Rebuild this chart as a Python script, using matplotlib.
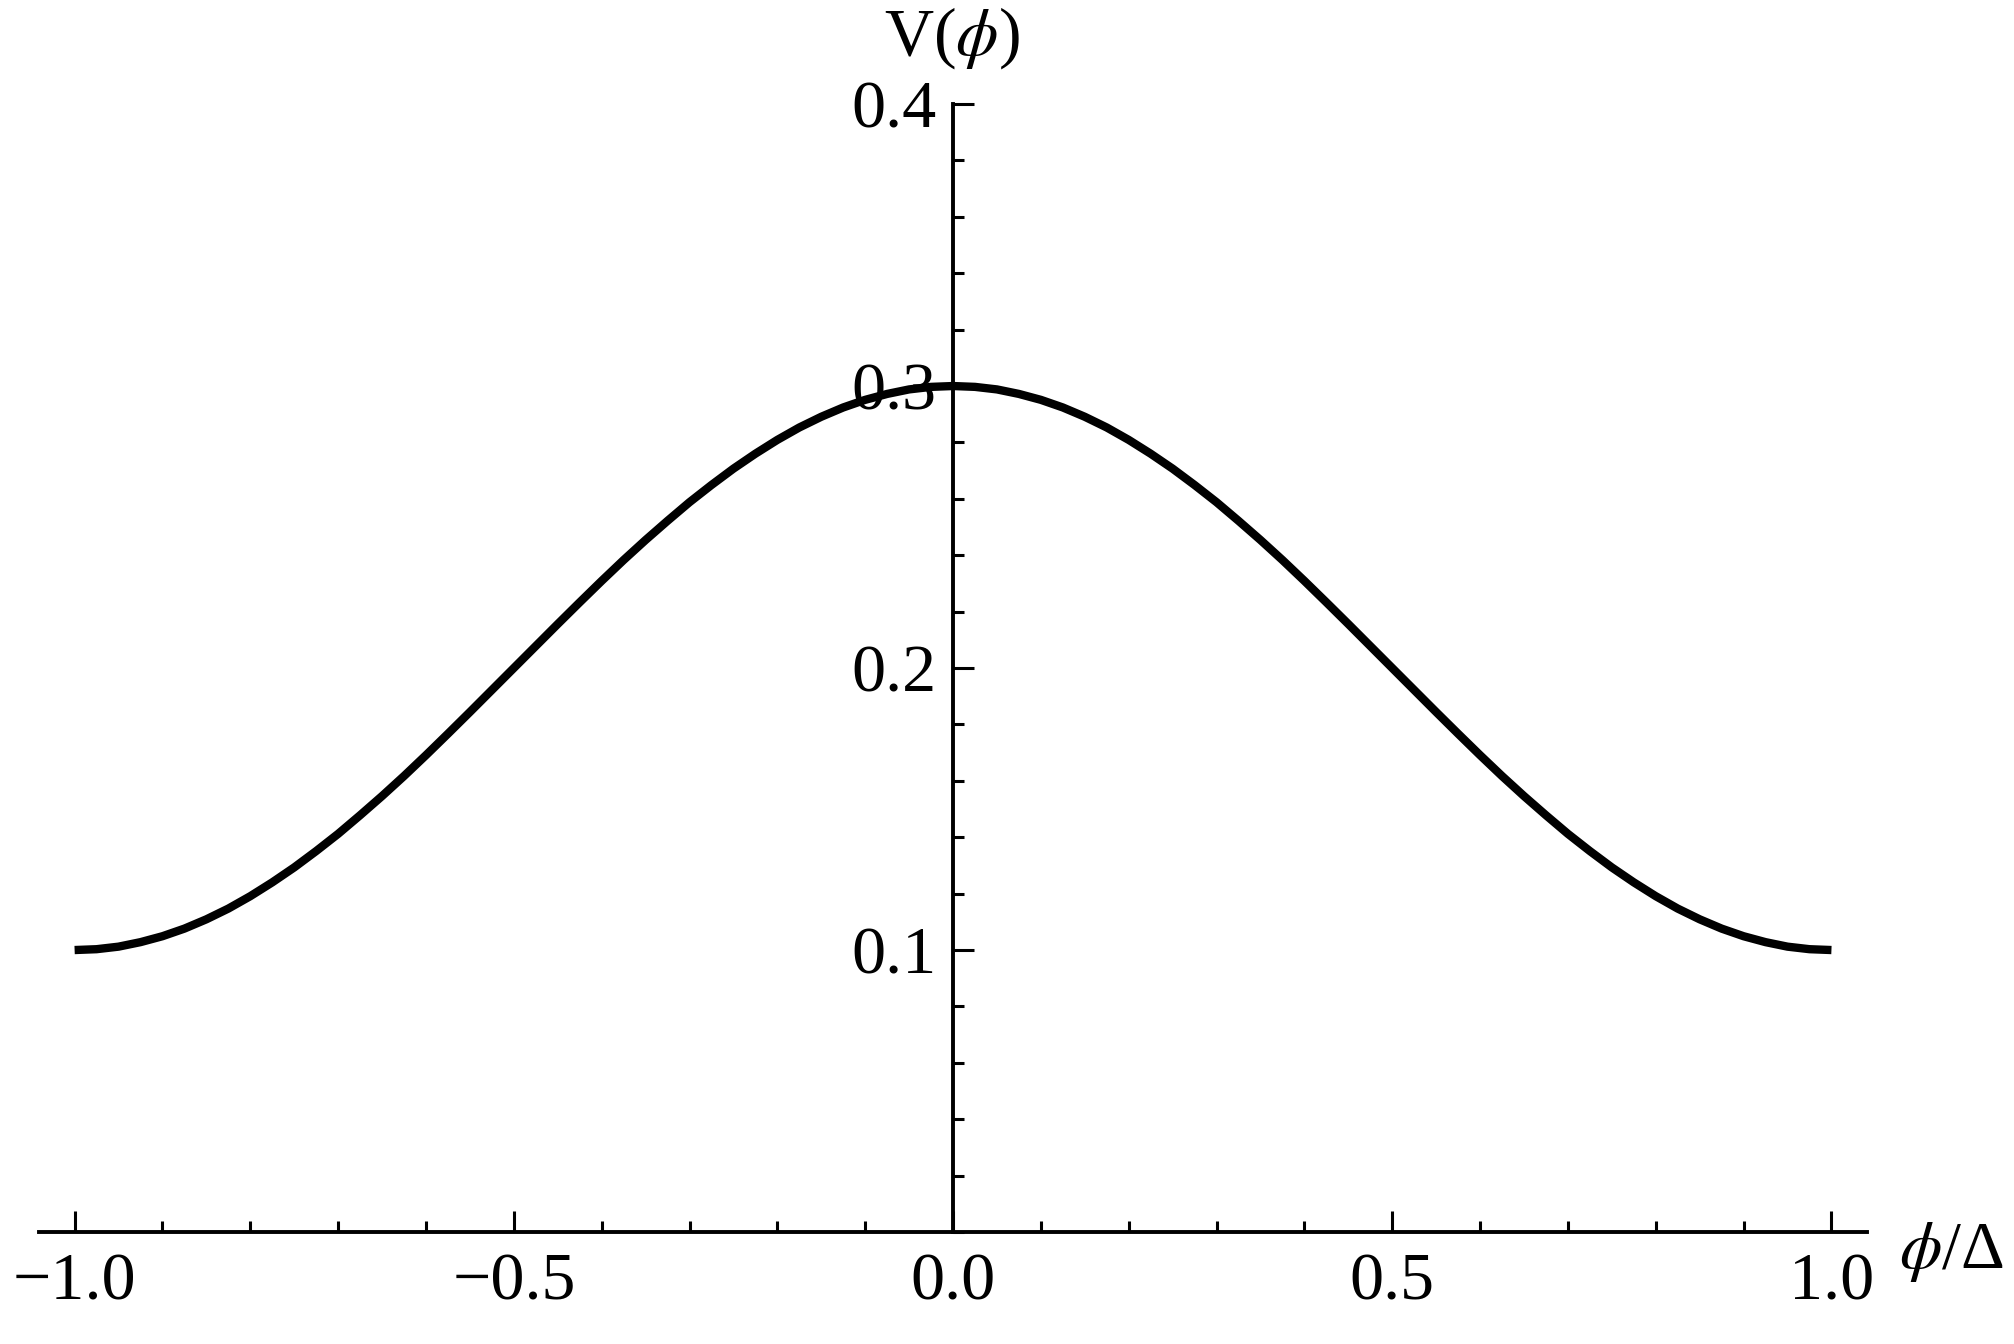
import matplotlib
matplotlib.use("Agg")
import matplotlib.pyplot as plt
from matplotlib.ticker import MultipleLocator

# valores (phi/Delta, V)
phi = [-1.000, -0.975, -0.950, -0.925, -0.900, -0.875, -0.850, -0.825, -0.800, -0.775,
       -0.750, -0.725, -0.700, -0.675, -0.650, -0.625, -0.600, -0.575, -0.550, -0.525,
       -0.500, -0.475, -0.450, -0.425, -0.400, -0.375, -0.350, -0.325, -0.300, -0.275,
       -0.250, -0.225, -0.200, -0.175, -0.150, -0.125, -0.100, -0.075, -0.050, -0.025,
       0.000,
       0.025, 0.050, 0.075, 0.100, 0.125, 0.150, 0.175, 0.200, 0.225, 0.250,
       0.275, 0.300, 0.325, 0.350, 0.375, 0.400, 0.425, 0.450, 0.475, 0.500,
       0.525, 0.550, 0.575, 0.600, 0.625, 0.650, 0.675, 0.700, 0.725, 0.750,
       0.775, 0.800, 0.825, 0.850, 0.875, 0.900, 0.925, 0.950, 0.975, 1.000]
V = [0.1000, 0.1003, 0.1012, 0.1028, 0.1049, 0.1076, 0.1109, 0.1147, 0.1191, 0.1240,
     0.1293, 0.1351, 0.1412, 0.1478, 0.1546, 0.1617, 0.1691, 0.1767, 0.1844, 0.1922,
     0.2000, 0.2078, 0.2156, 0.2233, 0.2309, 0.2383, 0.2454, 0.2522, 0.2588, 0.2649,
     0.2707, 0.2760, 0.2809, 0.2853, 0.2891, 0.2924, 0.2951, 0.2972, 0.2988, 0.2997,
     0.3000,
     0.2997, 0.2988, 0.2972, 0.2951, 0.2924, 0.2891, 0.2853, 0.2809, 0.2760, 0.2707,
     0.2649, 0.2588, 0.2522, 0.2454, 0.2383, 0.2309, 0.2233, 0.2156, 0.2078, 0.2000,
     0.1922, 0.1844, 0.1767, 0.1691, 0.1617, 0.1546, 0.1478, 0.1412, 0.1351, 0.1293,
     0.1240, 0.1191, 0.1147, 0.1109, 0.1076, 0.1049, 0.1028, 0.1012, 0.1003, 0.1000]

xticks = [-1.0, -0.5, 0.0, 0.5, 1.0]
xtick_labels = ['\u22121.0', '\u22120.5', '0.0', '0.5', '1.0']
yticks = [0.1, 0.2, 0.3, 0.4]
ytick_labels = ['0.1', '0.2', '0.3', '0.4']

plt.rcParams['font.family'] = ['Liberation Serif', 'DejaVu Serif']
plt.rcParams['mathtext.fontset'] = 'stix'

fig = plt.figure(figsize=(10.07, 6.72), dpi=200)
ax = fig.add_axes([0.0196, 0.0833, 0.9072, 0.8393])

ax.plot(phi, V, color='black', lw=3.0, zorder=3, clip_on=False,
        solid_joinstyle='round', solid_capstyle='butt')

ax.set_xlim(-1.04, 1.04)
ax.set_ylim(0, 0.4)

# eixos cruzando na origem, estilo Mathematica
ax.spines['left'].set_position(('data', 0))
ax.spines['bottom'].set_position(('data', 0))
ax.spines['top'].set_visible(False)
ax.spines['right'].set_visible(False)
for s in ['left', 'bottom']:
    ax.spines[s].set_linewidth(1.4)

ax.set_xticks(xticks)
ax.set_xticklabels(xtick_labels)
ax.set_yticks(yticks)
ax.set_yticklabels(ytick_labels)
ax.xaxis.set_minor_locator(MultipleLocator(0.1))
ax.yaxis.set_minor_locator(MultipleLocator(0.02))

ax.tick_params(which='both', direction='in', labelsize=24.5, width=1.1, color='black')
ax.tick_params(which='major', length=7.6)
ax.tick_params(which='minor', length=4.1)
ax.tick_params(axis='y', which='major', pad=6)
ax.tick_params(axis='x', which='major', pad=7.5)

fig.text(0.4727, 0.972, 'V($\\phi$)', fontsize=24.5, ha='center', va='center')
fig.text(0.9687, 0.0685, '$\\phi$/\u0394', fontsize=24.5, ha='center', va='center')

fig.savefig('out.png', dpi=200)
